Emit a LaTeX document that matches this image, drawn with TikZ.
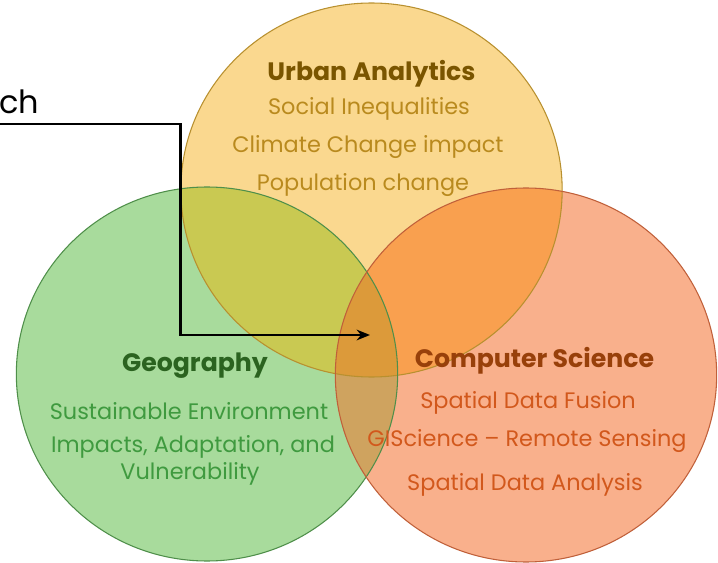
\documentclass[tikz,border=0pt]{standalone}
\usepackage{fontspec}
\setmainfont{Poppins}
\usetikzlibrary{arrows.meta,shapes.geometric}
\definecolor{ylwfill}{HTML}{FAD88F}
\definecolor{grnfill}{HTML}{A8DB9C}
\definecolor{orgfill}{HTML}{F9B08C}
\definecolor{gyfill}{HTML}{C9C952}
\definecolor{oyfill}{HTML}{F9A04F}
\definecolor{gofill}{HTML}{CFA35F}
\definecolor{allfill}{HTML}{DC9A3A}
\definecolor{ylwline}{HTML}{B8902F}
\definecolor{grnline}{HTML}{4F8F4A}
\definecolor{orgline}{HTML}{C0603A}
\definecolor{ylwhead}{HTML}{7A5500}
\definecolor{grnhead}{HTML}{2B6320}
\definecolor{orghead}{HTML}{98400A}
\definecolor{ylwtext}{HTML}{B98A1E}
\definecolor{grntext}{HTML}{3F9A3F}
\definecolor{orgtext}{HTML}{D2581C}
\tikzset{
  x=0.75pt,y=-0.75pt,
  head/.style={anchor=base,inner sep=0pt,font=\fontsize{18.9}{20}\selectfont\bfseries},
  body/.style={anchor=base,inner sep=0pt,font=\fontsize{16.8}{18}\selectfont},
  ring/.style={ellipse,draw,line width=0.8pt,inner sep=0pt,minimum width=286pt,minimum height=280.5pt,fill=none},
  wire/.style={line width=1.6pt,draw=black,-{Stealth[length=10pt,width=8pt]}}
}
\begin{document}
\begin{tikzpicture}
\useasboundingbox (0,0) rectangle (718,563);
\clip (0,0) rectangle (718,563);
\def\pu{(371.5,190) ellipse [x radius=143pt,y radius=140.25pt]}
\def\pg{(207,374) ellipse [x radius=143pt,y radius=140.25pt]}
\def\po{(526,375) ellipse [x radius=143pt,y radius=140.25pt]}
\fill[ylwfill] \pu;
\fill[grnfill] \pg;
\fill[orgfill] \po;
\begin{scope}\clip \pu; \fill[gyfill] \pg; \fill[oyfill] \po; \end{scope}
\begin{scope}\clip \pg; \fill[gofill] \po; \end{scope}
\begin{scope}\clip \pu; \clip \pg; \fill[allfill] \po; \end{scope}
\node[ring,draw=ylwline] (urban) at (371.5,190) {};
\node[ring,draw=grnline] (geo) at (207,374) {};
\node[ring,draw=orgline] (cs) at (526,375) {};
\node[anchor=base,inner sep=0pt,font=\fontsize{24}{26}\selectfont] (ch) at (19.5,114) {ch};
\coordinate (wstart) at (-5,124);
\coordinate (wa) at (180.5,124);
\coordinate (wb) at (180.5,335);
\coordinate (wend) at (370,335);
\draw[wire] (wstart) -- (wa) -- (wb) -- (wend);
\node[head,text=ylwhead] (t1) at (371.5,81) {Urban Analytics};
\node[body,text=ylwtext] (t2) at (369,115) {Social Inequalities};
\node[body,text=ylwtext] (t3) at (368,153) {Climate Change impact};
\node[body,text=ylwtext] (t4) at (363,191) {Population change};
\node[head,text=orghead] (t5) at (534.5,367) {Computer Science};
\node[body,text=orgtext] (t6) at (528,408) {Spatial Data Fusion};
\node[body,text=orgtext] (t7) at (527,446) {GIScience – Remote Sensing};
\node[body,text=orgtext] (t8) at (525,490) {Spatial Data Analysis};
\node[head,text=grnhead] (t9) at (195,371) {Geography};
\node[body,text=grntext] (t10) at (189,419) {Sustainable Environment};
\node[body,text=grntext] (t11) at (193,452) {Impacts, Adaptation, and};
\node[body,text=grntext] (t12) at (190,479) {Vulnerability};
\end{tikzpicture}
\end{document}
